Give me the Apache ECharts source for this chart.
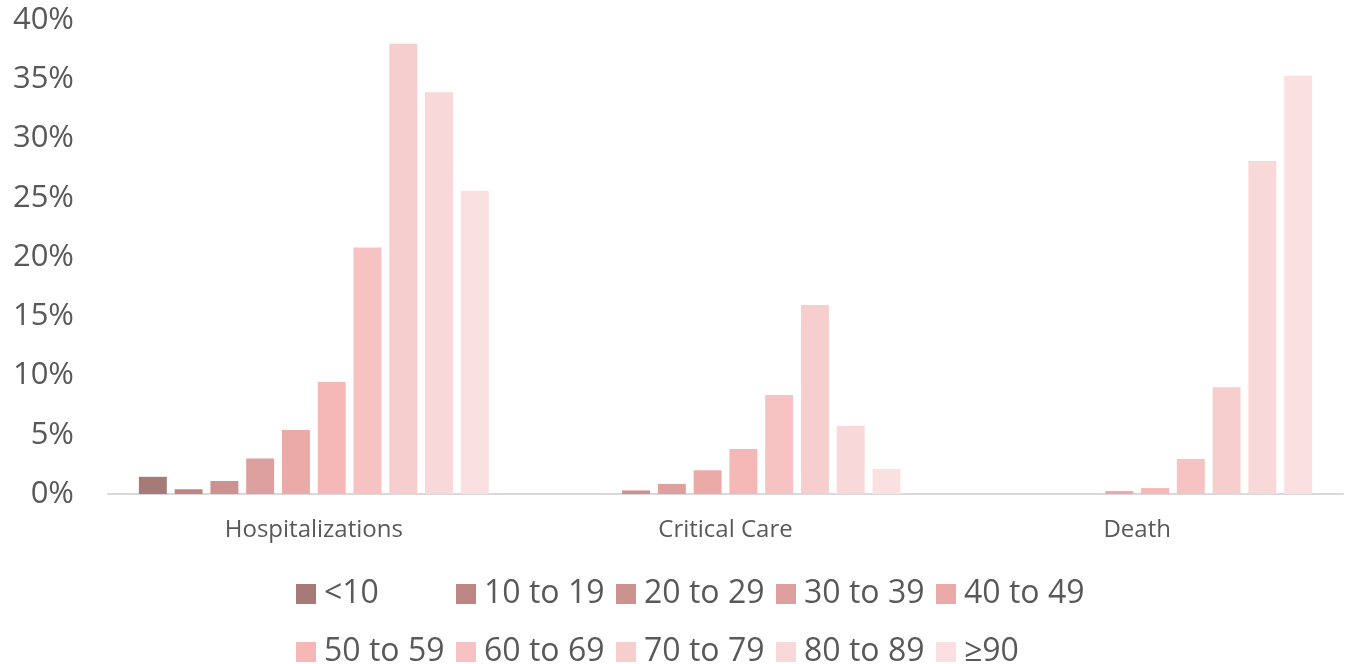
<!DOCTYPE html>
<html>
<head>
<meta charset="utf-8">
<script src="https://cdn.jsdelivr.net/npm/echarts@6/dist/echarts.min.js"></script>
<style>
html,body{margin:0;padding:0;background:#fff;}
#chart{width:1345px;height:664px;}
</style>
</head>
<body>
<div id="chart"></div>
<script>
const categories = ['Hospitalizations', 'Critical Care', 'Death'];
const ageGroups = ['<10', '10 to 19', '20 to 29', '30 to 39', '40 to 49', '50 to 59', '60 to 69', '70 to 79', '80 to 89', '\u226590'];
const colors = ['#a67a77', '#bb8683', '#cc9290', '#dea09f', '#eaaaa8', '#f5b8b7', '#f6c3c2', '#f6cecd', '#f8d8d8', '#fae0e0'];
// values per age group: [Hospitalizations, Critical Care, Death] in %
const vLt10   = [1.45, 0, 0];
const v10to19 = [0.4, 0, 0];
const v20to29 = [1.1, 0.3, 0];
const v30to39 = [3.0, 0.85, 0];
const v40to49 = [5.4, 2.0, 0.25];
const v50to59 = [9.45, 3.8, 0.5];
const v60to69 = [20.8, 8.35, 2.95];
const v70to79 = [38.0, 15.95, 9.0];
const v80to89 = [33.9, 5.75, 28.1];
const v90plus = [25.6, 2.1, 35.3];
const seriesValues = [vLt10, v10to19, v20to29, v30to39, v40to49, v50to59, v60to69, v70to79, v80to89, v90plus];
const yTicks = [0, 5, 10, 15, 20, 25, 30, 35, 40];

const chart = echarts.init(document.getElementById('chart'));
const font = '"Open Sans", "Noto Sans", sans-serif';
chart.setOption({
  animation: false,
  color: colors,
  grid: { left: 108, right: 2, top: 20, bottom: 170, containLabel: false },
  legend: {
    data: ageGroups,
    left: 291, top: 560, width: 805,
    orient: 'horizontal',
    itemWidth: 20, itemHeight: 20, itemGap: 0,
    icon: 'rect',
    textStyle: { fontFamily: font, fontSize: 32, color: '#595959', width: 132, lineHeight: 58, padding: [0, 0, 0, 3] }
  },
  xAxis: {
    type: 'category',
    data: categories,
    axisLine: { lineStyle: { color: '#d9d9d9', width: 2 } },
    axisTick: { show: false },
    axisLabel: { fontFamily: font, fontSize: 24, color: '#595959', margin: 24 }
  },
  yAxis: {
    type: 'value',
    min: yTicks[0], max: yTicks[yTicks.length - 1], interval: 5,
    splitLine: { show: false },
    axisLine: { show: false },
    axisTick: { show: false },
    axisLabel: { fontFamily: font, fontSize: 31, color: '#595959', margin: 34, formatter: v => v + '%' }
  },
  series: ageGroups.map((name, i) => ({
    name: name,
    type: 'bar',
    data: seriesValues[i],
    barGap: '28%',
    barCategoryGap: '15%',
    itemStyle: { color: colors[i] }
  }))
});
</script>
</body>
</html>
